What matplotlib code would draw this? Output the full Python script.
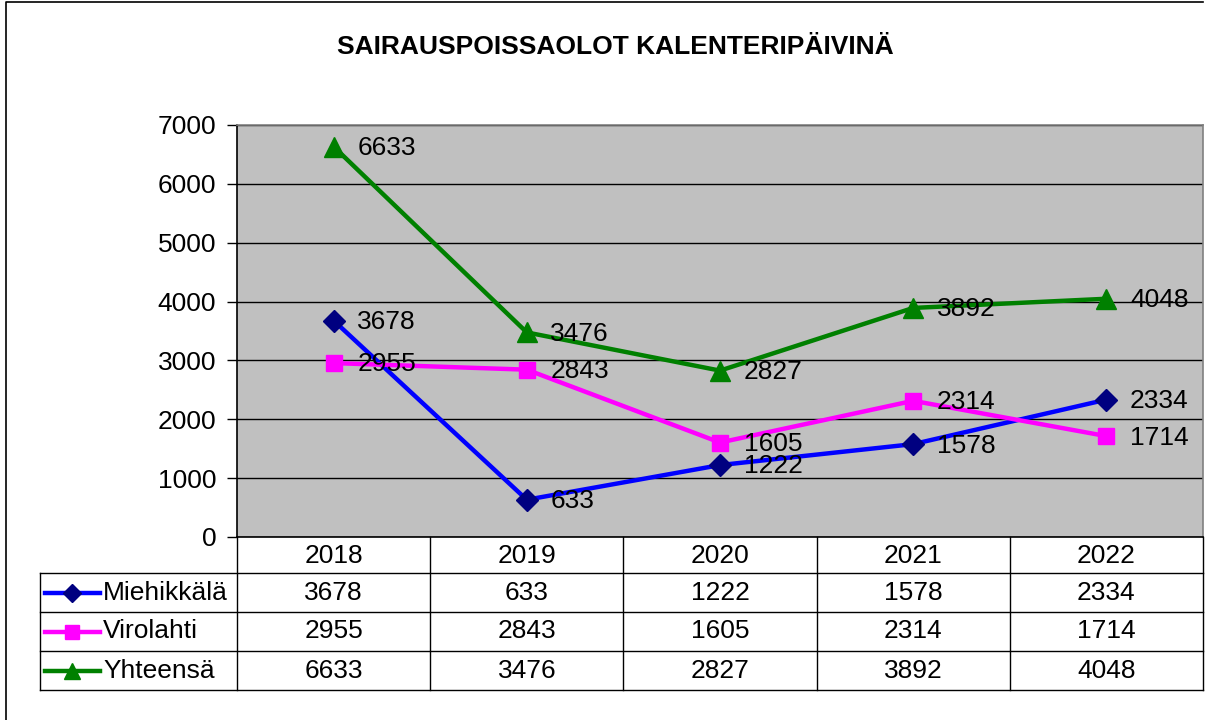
import matplotlib
matplotlib.use('Agg')
import matplotlib.pyplot as plt

plt.rcParams['font.family'] = ['Liberation Sans', 'DejaVu Sans']

vuodet = ['2018', '2019', '2020', '2021', '2022']
miehikkala = [3678, 633, 1222, 1578, 2334]
virolahti = [2955, 2843, 1605, 2314, 1714]
yhteensa = [6633, 3476, 2827, 3892, 4048]

sarjat = [
    ('Miehikkälä', miehikkala, '#0000FF', 'D', '#000080', 11),
    ('Virolahti', virolahti, '#FF00FF', 's', '#FF00FF', 12),
    ('Yhteensä', yhteensa, '#008000', '^', '#008000', 14),
]

W, H = 1205, 720
fs = 19
fig = plt.figure(figsize=(W / 100, H / 100), dpi=100)

# pikselit -> kuvan koordinaatit
def fx(px):
    return px / W

def fy(py):
    return 1 - py / H

x0, x1, y0, y1 = 237, 1203, 125, 537
ax = fig.add_axes([fx(x0), fy(y1), fx(x1) - fx(x0), fy(y0) - fy(y1)])
ax.set_facecolor('#C0C0C0')
ax.set_xlim(-0.5, len(vuodet) - 0.5)
ax.set_ylim(0, 7000)
ax.set_yticks(range(0, 7001, 1000))
ax.tick_params(axis='y', labelsize=fs, length=7, width=1, pad=8)
ax.set_xticks([])
ax.grid(axis='y', color='black', linewidth=1)
ax.set_axisbelow(True)
for s in ax.spines.values():
    s.set_color('#808080')
    s.set_linewidth(1.2)
ax.spines['left'].set_color('black')
ax.spines['bottom'].set_color('black')

xs = range(len(vuodet))
for nimi, arvot, vari, merkki, mvari, koko in sarjat:
    ax.plot(xs, arvot, color=vari, linewidth=3.2, marker=merkki,
            markersize=koko, markerfacecolor=mvari, markeredgecolor=mvari, zorder=3)
    for x, v in zip(xs, arvot):
        ax.annotate(str(v), (x, v), xytext=(17, -1), textcoords='offset points',
                    va='center', ha='left', fontsize=fs, zorder=4)

# taulukko
tax = fig.add_axes([0, 0, 1, 1])
tax.set_xlim(0, W)
tax.set_ylim(H, 0)
tax.axis('off')

sarakkeet = [x0 + i * (x1 - x0) / len(vuodet) for i in range(len(vuodet) + 1)]
rivit = [537, 573, 612, 651, 690]
lx = 40
viiva = dict(color='black', linewidth=1)

for r in rivit[1:]:
    tax.plot([lx, x1], [r, r], **viiva)
for c in sarakkeet:
    tax.plot([c, c], [rivit[0], rivit[-1]], **viiva)
tax.plot([lx, lx], [rivit[1], rivit[-1]], **viiva)

for i, v in enumerate(vuodet):
    cx = (sarakkeet[i] + sarakkeet[i + 1]) / 2
    tax.text(cx, (rivit[0] + rivit[1]) / 2 + 1, v, ha='center', va='center', fontsize=fs)

for j, (nimi, arvot, vari, merkki, mvari, koko) in enumerate(sarjat):
    cy = (rivit[j + 1] + rivit[j + 2]) / 2
    tax.plot([45, 100], [cy, cy], color=vari, linewidth=3.2)
    tax.plot([72], [cy], marker=merkki, color=mvari, markersize=koko - 2)
    tax.text(103, cy, nimi, ha='left', va='center', fontsize=fs)
    for i, v in enumerate(arvot):
        cx = (sarakkeet[i] + sarakkeet[i + 1]) / 2
        tax.text(cx, cy, str(v), ha='center', va='center', fontsize=fs)

# kehys
tax.plot([6, 6, 1203], [H, 2, 2], color='black', linewidth=1.2)

fig.text(fx(615), fy(47), 'SAIRAUSPOISSAOLOT KALENTERIPÄIVINÄ', ha='center', va='center',
         fontsize=19, fontweight='bold')

fig.savefig('out.png', dpi=100)
